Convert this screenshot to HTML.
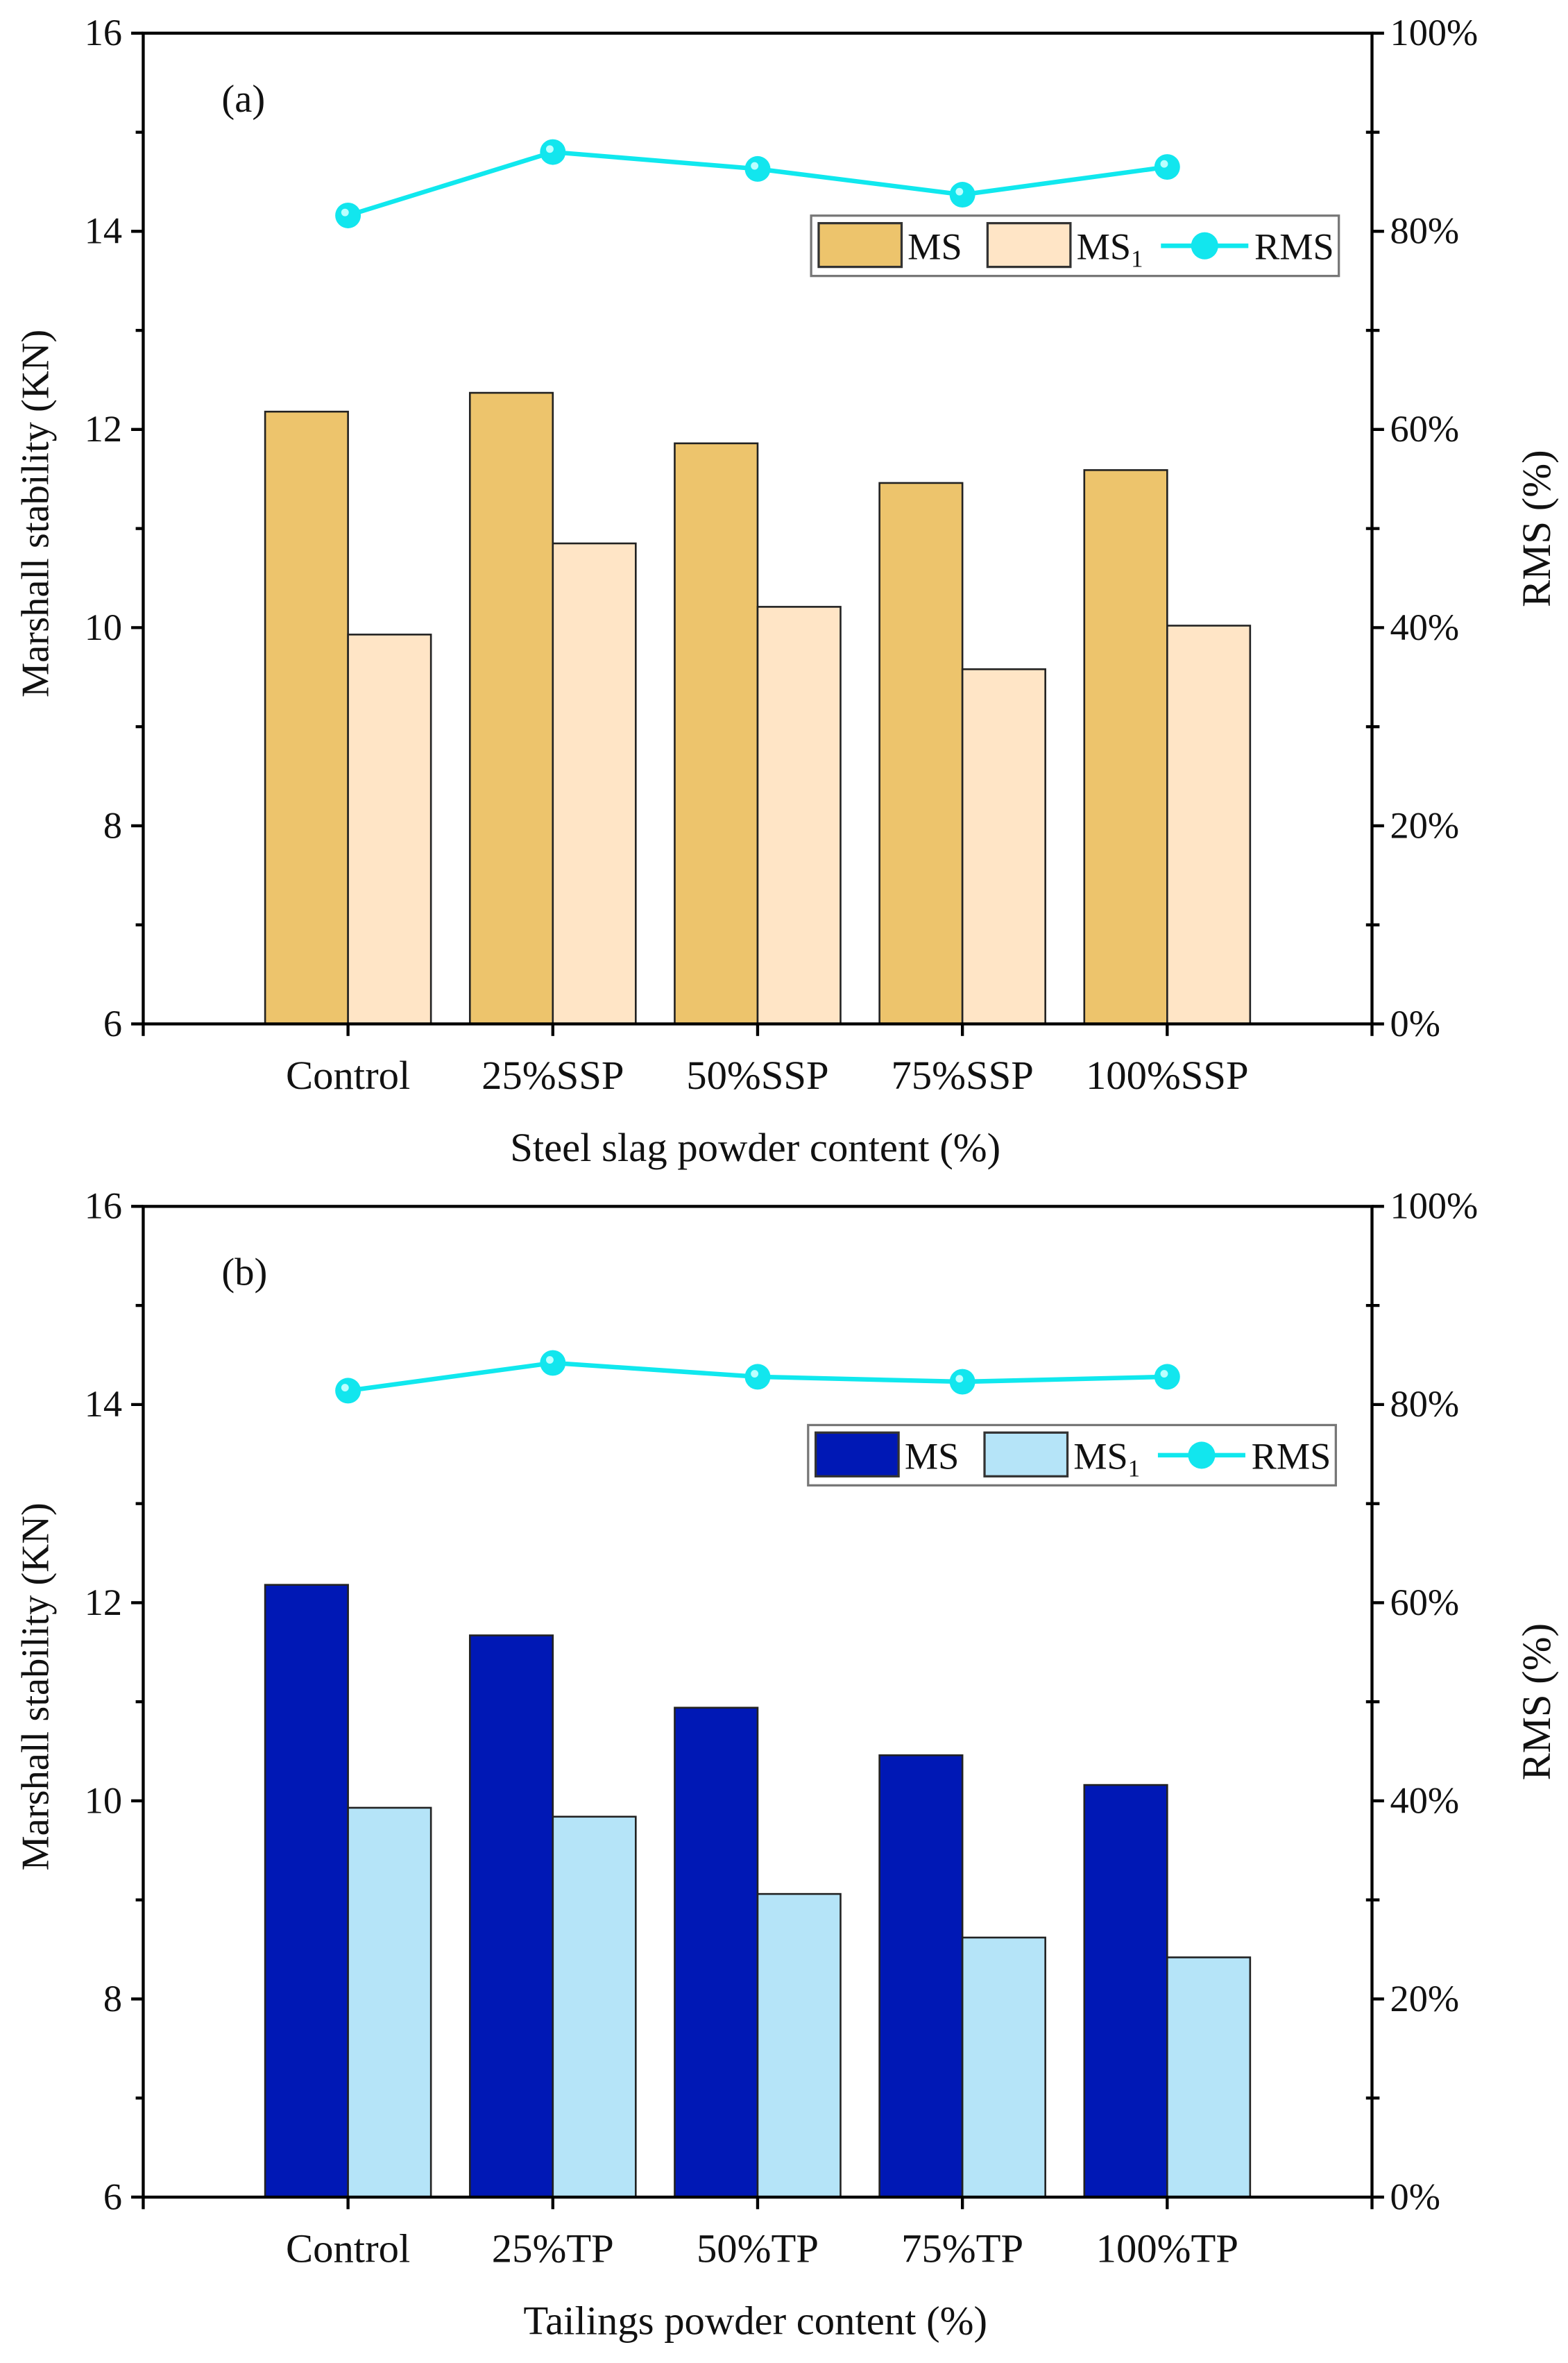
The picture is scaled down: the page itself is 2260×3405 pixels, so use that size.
<!DOCTYPE html>
<html><head><meta charset="utf-8"><style>
html,body{margin:0;padding:0;background:#fff;}
svg{display:block;font-family:"Liberation Serif",serif;}
</style></head><body>
<svg id="chart" xmlns="http://www.w3.org/2000/svg" width="2260" height="3405" viewBox="0 0 1040 1567" preserveAspectRatio="none"></svg>
<script>
const categoriesA = ["Control","25%SSP","50%SSP","75%SSP","100%SSP"];
const msA = [12.18, 12.37, 11.86, 11.46, 11.59];
const ms1A = [9.93, 10.85, 10.21, 9.58, 10.02];
const rmsA = [81.6, 88.0, 86.3, 83.7, 86.5];
const categoriesB = ["Control","25%TP","50%TP","75%TP","100%TP"];
const msB = [12.18, 11.67, 10.94, 10.46, 10.16];
const ms1B = [9.93, 9.84, 9.06, 8.62, 8.42];
const rmsB = [81.4, 84.2, 82.8, 82.3, 82.8];
const leftTicks = [6, 8, 10, 12, 14, 16];
const rightTicks = [0, 20, 40, 60, 80, 100];

const NS = "http://www.w3.org/2000/svg";
const svg = document.getElementById("chart");
function mk(tag, attrs, parent, text) {
  const e = document.createElementNS(NS, tag);
  for (const k in attrs) e.setAttribute(k, attrs[k]);
  if (text !== undefined) e.textContent = text;
  (parent || svg).appendChild(e);
  return e;
}

function panel(cfg) {
  const L = 95, R = 910, T = cfg.top, B = cfg.top + 657;
  const g = mk("g", {});
  
  
  const y = v => B - (v - 6) / 10 * (B - T);
  const yr = v => B - v / 100 * (B - T);
  const x = i => L + (i + 1) * (R - L) / 6;
  const bw = 55;
  cfg.cats.forEach((c, i) => {
    const b1 = mk("rect", {x: x(i) - bw, y: y(cfg.ms[i]), width: bw, height: B - y(cfg.ms[i]), fill: cfg.c1, stroke: "#222", "stroke-width": 1.2}, g);
    
    
    const b2 = mk("rect", {x: x(i), y: y(cfg.ms1[i]), width: bw, height: B - y(cfg.ms1[i]), fill: cfg.c2, stroke: "#222", "stroke-width": 1.2}, g);
    
    
    const t = mk("text", {x: x(i), y: B + 43, "font-size": 27, "text-anchor": "middle", fill: "#111"}, g, c);
    
    
    mk("line", {x1: x(i), x2: x(i), y1: B, y2: B + 8, stroke: "#000", "stroke-width": 2}, g);
  });
  const pts = cfg.rms.map((v, i) => x(i) + "," + yr(v)).join(" ");
  const pl = mk("polyline", {points: pts, fill: "none", stroke: "#10E8EE", "stroke-width": 3}, g);
  
  
  cfg.rms.forEach((v, i) => {
    const m = mk("ellipse", {cx: x(i), cy: yr(v), rx: 8.5, ry: 8.5, fill: "#12E6EE"}, g);
    
    
    mk("ellipse", {cx: x(i) - 2, cy: yr(v) - 2, rx: 2.5, ry: 2.5, fill: "#bff"}, g);
  });
  mk("rect", {x: L, y: T, width: R - L, height: B - T, fill: "none", stroke: "#000", "stroke-width": 2}, g);
  mk("line", {x1: L, x2: L, y1: B, y2: B + 8, stroke: "#000", "stroke-width": 2}, g);
  mk("line", {x1: R, x2: R, y1: B, y2: B + 8, stroke: "#000", "stroke-width": 2}, g);
  leftTicks.forEach(v => {
    mk("line", {x1: L - 8, x2: L, y1: y(v), y2: y(v), stroke: "#000", "stroke-width": 2}, g);
    if (v < 16) mk("line", {x1: L - 5, x2: L, y1: y(v + 1), y2: y(v + 1), stroke: "#000", "stroke-width": 2}, g);
    const t = mk("text", {x: L - 14, y: y(v) + 8, "font-size": 25, "text-anchor": "end", fill: "#111"}, g, String(v));
    
    
  });
  rightTicks.forEach(v => {
    mk("line", {x1: R, x2: R + 8, y1: yr(v), y2: yr(v), stroke: "#000", "stroke-width": 2}, g);
    if (v < 100) mk("line", {x1: R - 4, x2: R + 5, y1: yr(v + 10), y2: yr(v + 10), stroke: "#000", "stroke-width": 2}, g);
    const t = mk("text", {x: R + 12, y: yr(v) + 8, "font-size": 25, fill: "#111"}, g, v + "%");
    
    
  });
  const yt = mk("text", {x: 0, y: 0, "font-size": 26, "text-anchor": "middle", transform: `translate(32,${(T + B) / 2 - 10}) rotate(-90)`, fill: "#111"}, g, "Marshall stability (KN)");
  
  
  const y2 = mk("text", {x: 0, y: 0, "font-size": 27, "text-anchor": "middle", transform: `translate(1028,${(T + B) / 2}) rotate(-90)`, fill: "#111"}, g, "RMS (%)");
  
  
  const xt = mk("text", {x: 501, y: B + 91, "font-size": 27, "text-anchor": "middle", fill: "#111"}, g, cfg.xtitle);
  
  
  const pt = mk("text", {x: 147, y: T + 52, "font-size": 26, fill: "#111"}, g, cfg.label);
  
  
  const lg = mk("g", {}, g);
  
  
  const lx = cfg.legX, ly = T + cfg.legDY;
  mk("rect", {x: lx, y: ly, width: 350, height: 40, fill: "#fff", stroke: "#777", "stroke-width": 1.5}, lg);
  mk("rect", {x: lx + 5, y: ly + 5, width: 55, height: 29, fill: cfg.c1, stroke: "#333", "stroke-width": 1.5}, lg);
  mk("text", {x: lx + 64, y: ly + 29, "font-size": 25, fill: "#111"}, lg, "MS");
  mk("rect", {x: lx + 117, y: ly + 5, width: 55, height: 29, fill: cfg.c2, stroke: "#333", "stroke-width": 1.5}, lg);
  const t2 = mk("text", {x: lx + 176, y: ly + 29, "font-size": 25, fill: "#111"}, lg, "MS");
  mk("tspan", {"font-size": 16, dy: 5}, t2, "1");
  mk("line", {x1: lx + 232, x2: lx + 290, y1: ly + 20, y2: ly + 20, stroke: "#10E8EE", "stroke-width": 3}, lg);
  mk("ellipse", {cx: lx + 261, cy: ly + 20, rx: 9, ry: 9, fill: "#12E6EE"}, lg);
  mk("text", {x: lx + 294, y: ly + 29, "font-size": 25, fill: "#111"}, lg, "RMS");
}

panel({name: "panel-a", top: 22, cats: categoriesA, ms: msA, ms1: ms1A, rms: rmsA, c1: "#EDC46C", c2: "#FFE5C6", xtitle: "Steel slag powder content (%)", label: "(a)", legX: 538, legDY: 121});
panel({name: "panel-b", top: 800, cats: categoriesB, ms: msB, ms1: ms1B, rms: rmsB, c1: "#0018B5", c2: "#B5E4F8", xtitle: "Tailings  powder content (%)", label: "(b)", legX: 536, legDY: 145});
</script>
</body></html>
